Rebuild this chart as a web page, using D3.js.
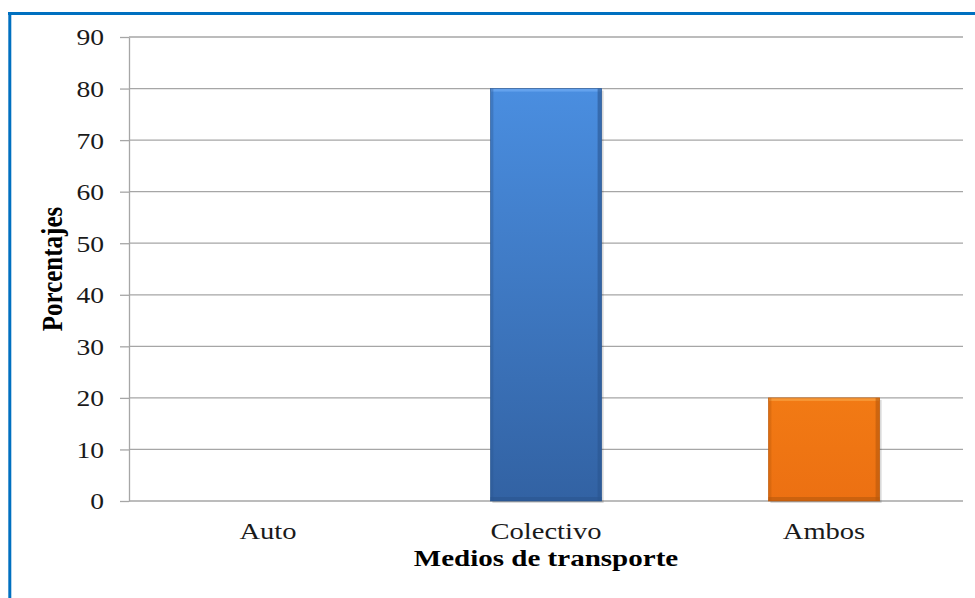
<!DOCTYPE html>
<html><head><meta charset="utf-8">
<script src="https://cdn.jsdelivr.net/npm/d3@7"></script>
<style>body{margin:0;background:#fff}svg{display:block}text{font-family:'Liberation Serif','Times New Roman',serif}</style>
</head><body>
<svg id="c" width="975" height="598"></svg>
<script>
const categories = ["Auto", "Colectivo", "Ambos"];
const values = [0, 80, 20];
const yTicks = [0, 10, 20, 30, 40, 50, 60, 70, 80, 90];
const xTitle = "Medios de transporte";
const yTitle = "Porcentajes";

const svg = d3.select("#c");
const W = 975, H = 598;
const m = {left: 129, right: 963, top: 37, bottom: 501};
const SX = 1.15, SXL = 1.19;

// border
svg.append("line").attr("x1", 8).attr("x2", W).attr("y1", 13.5).attr("y2", 13.5)
  .attr("stroke", "#0070c0").attr("stroke-width", 3);
svg.append("line").attr("x1", 9.8).attr("x2", 9.8).attr("y1", 12).attr("y2", H)
  .attr("stroke", "#0070c0").attr("stroke-width", 3);

const defs = svg.append("defs");
const gBlue = defs.append("linearGradient").attr("id", "gb").attr("x1", 0).attr("x2", 0).attr("y1", 0).attr("y2", 1);
gBlue.append("stop").attr("offset", "0%").attr("stop-color", "#4a8ee0");
gBlue.append("stop").attr("offset", "100%").attr("stop-color", "#3262a3");
const gOr = defs.append("linearGradient").attr("id", "go").attr("x1", 0).attr("x2", 0).attr("y1", 0).attr("y2", 1);
gOr.append("stop").attr("offset", "0%").attr("stop-color", "#f27a14");
gOr.append("stop").attr("offset", "100%").attr("stop-color", "#ec7012");
const fills = ["url(#gb)", "url(#gb)", "url(#go)"];
const edgeDark = ["#2a5590", "#2a5590", "#b8580c"];
const edgeLight = ["#6aa8f0", "#6aa8f0", "#f8a040"];

const y = d3.scaleLinear().domain([0, 90]).range([m.bottom, m.top]);
const x = d3.scaleBand().domain(categories).range([m.left, m.right]).paddingInner(0.6).paddingOuter(0.3);

// gridlines
svg.append("g").selectAll("line").data(yTicks).join("line")
  .attr("x1", m.left).attr("x2", m.right)
  .attr("y1", d => y(d)).attr("y2", d => y(d))
  .attr("stroke", "#a6a6a6").attr("stroke-width", 1.3);

// y axis
const ya = svg.append("g").attr("transform", `translate(${m.left},0)`)
  .call(d3.axisLeft(y).tickValues(yTicks).tickSize(9).tickPadding(0).tickSizeOuter(0));
ya.attr("font-family", null);
ya.select(".domain").attr("stroke", "#a6a6a6").attr("stroke-width", 1.3);
ya.selectAll(".tick line").attr("stroke", "#a6a6a6").attr("stroke-width", 1.3);
ya.selectAll(".tick text")
  .attr("x", -25 / SX).attr("dy", "0.33em")
  .attr("transform", `scale(${SX},1)`)
  .attr("font-size", 24).attr("fill", "#1a1a1a");

// bars
svg.append("g").selectAll("g").data(values).join("g").each(function(d, i) {
  if (d <= 0) return;
  const g = d3.select(this);
  const bx = x(categories[i]), bw = x.bandwidth();
  const by = y(d), bh = y(0) - y(d);
  g.append("rect").attr("x", bx + 2).attr("y", by + 2).attr("width", bw).attr("height", bh)
    .attr("fill", "#000").attr("opacity", 0.15);
  g.append("rect").attr("x", bx).attr("y", by).attr("width", bw).attr("height", bh).attr("fill", fills[i]);
  g.append("rect").attr("x", bx).attr("y", by).attr("width", bw).attr("height", 3).attr("fill", edgeLight[i]).attr("opacity", 0.8);
  g.append("rect").attr("x", bx).attr("y", by + bh - 4).attr("width", bw).attr("height", 4).attr("fill", edgeDark[i]).attr("opacity", 0.6);
  g.append("rect").attr("x", bx).attr("y", by).attr("width", 3).attr("height", bh).attr("fill", edgeDark[i]).attr("opacity", 0.35);
  g.append("rect").attr("x", bx + bw - 4).attr("y", by).attr("width", 4).attr("height", bh).attr("fill", edgeDark[i]).attr("opacity", 0.6);
  g.append("rect").attr("x", bx).attr("y", by).attr("width", bw).attr("height", bh)
    .attr("fill", "none").attr("stroke", edgeDark[i]).attr("stroke-width", 0.8).attr("opacity", 0.7);
});

// x category labels
svg.append("g").selectAll("text").data(categories).join("text")
  .attr("transform", d => `translate(${x(d) + x.bandwidth() / 2},539) scale(${SXL},1)`)
  .attr("text-anchor", "middle")
  .attr("font-size", 24).attr("fill", "#1a1a1a")
  .text(d => d);

// axis titles
svg.append("text")
  .attr("transform", `translate(${(m.left + m.right) / 2},566) scale(1.21,1)`)
  .attr("text-anchor", "middle")
  .attr("font-size", 24).attr("font-weight", "bold").attr("fill", "#000")
  .text(xTitle);
svg.append("text")
  .attr("transform", `translate(62,${(m.top + m.bottom) / 2}) rotate(-90) scale(1,${SX})`)
  .attr("text-anchor", "middle")
  .attr("font-size", 25).attr("font-weight", "bold").attr("fill", "#000")
  .text(yTitle);
</script>
</body></html>
